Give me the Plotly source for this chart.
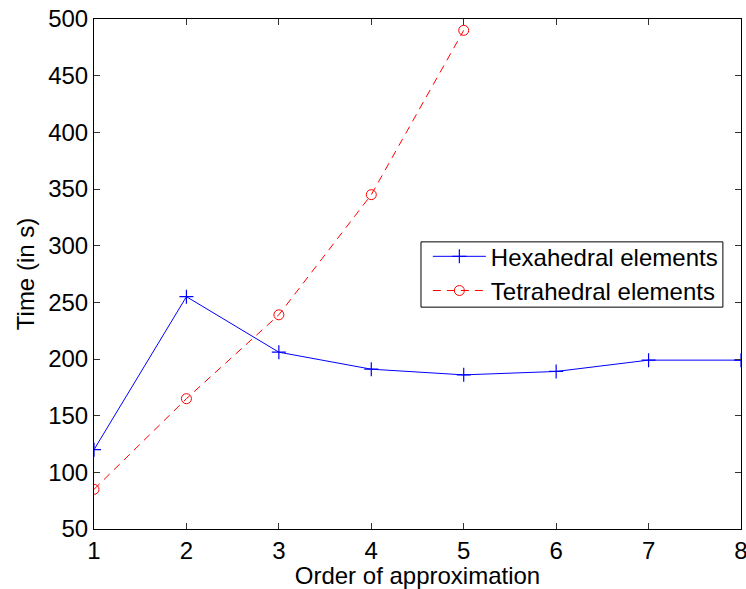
import plotly.graph_objects as go

hex_x = [1, 2, 3, 4, 5, 6, 7, 8]
hex_y = [120, 255, 206, 191, 186, 189, 199, 199]
tet_x = [1, 2, 3, 4, 5]
tet_y = [85, 165, 239, 345, 490]
x_ticks = [1, 2, 3, 4, 5, 6, 7, 8]
y_ticks = [50, 100, 150, 200, 250, 300, 350, 400, 450, 500]

font = "Liberation Sans, Arial, Helvetica, sans-serif"
FS = 24

fig = go.Figure()
fig.add_trace(go.Scatter(
    x=hex_x, y=hex_y, mode="lines+markers", name="Hexahedral elements",
    line=dict(color="#0000ff", width=1),
    marker=dict(symbol="cross-thin", size=10, color="#0000ff",
                line=dict(color="#0000ff", width=1.2)),
))
fig.add_trace(go.Scatter(
    x=tet_x, y=tet_y, mode="lines+markers", name="Tetrahedral elements",
    line=dict(color="#ff0000", width=1, dash="8px,6px"),
    marker=dict(symbol="circle-open", size=10, color="#ff0000",
                line=dict(color="#ff0000", width=1)),
))

axis_common = dict(
    showline=True, linecolor="black", linewidth=1, mirror="ticks",
    ticks="inside", ticklen=6, tickcolor="#333", showgrid=False, zeroline=False,
    tickfont=dict(family=font, size=FS, color="black"),
    ticklabeloverflow="allow", automargin=False,
)
fig.update_xaxes(range=[1, 8], tickvals=x_ticks,
                 title=dict(text="Order of approximation", font=dict(family=font, size=FS, color="black"), standoff=2),
                 **axis_common)
fig.update_yaxes(range=[50, 500], tickvals=y_ticks,
                 title=dict(text="Time (in s)", font=dict(family=font, size=FS, color="black"), standoff=6),
                 **axis_common)

# legend frame (MATLAB-style tight box)
fig.add_shape(type="rect", xref="paper", yref="paper",
              x0=0.5054, x1=0.972, y0=0.435, y1=0.563,
              line=dict(color="black", width=1), fillcolor="white", layer="below")

fig.update_layout(
    width=746, height=589,
    margin=dict(l=94, r=5, t=19, b=60),
    plot_bgcolor="white", paper_bgcolor="white",
    font=dict(family=font, size=FS, color="black"),
    showlegend=True,
    legend=dict(x=0.516, y=0.578, xanchor="left", yanchor="top",
                borderwidth=0, bgcolor="rgba(0,0,0,0)",
                font=dict(family=font, size=FS, color="black"),
                tracegroupgap=0, itemwidth=53),
)

fig.write_html("out.html")
